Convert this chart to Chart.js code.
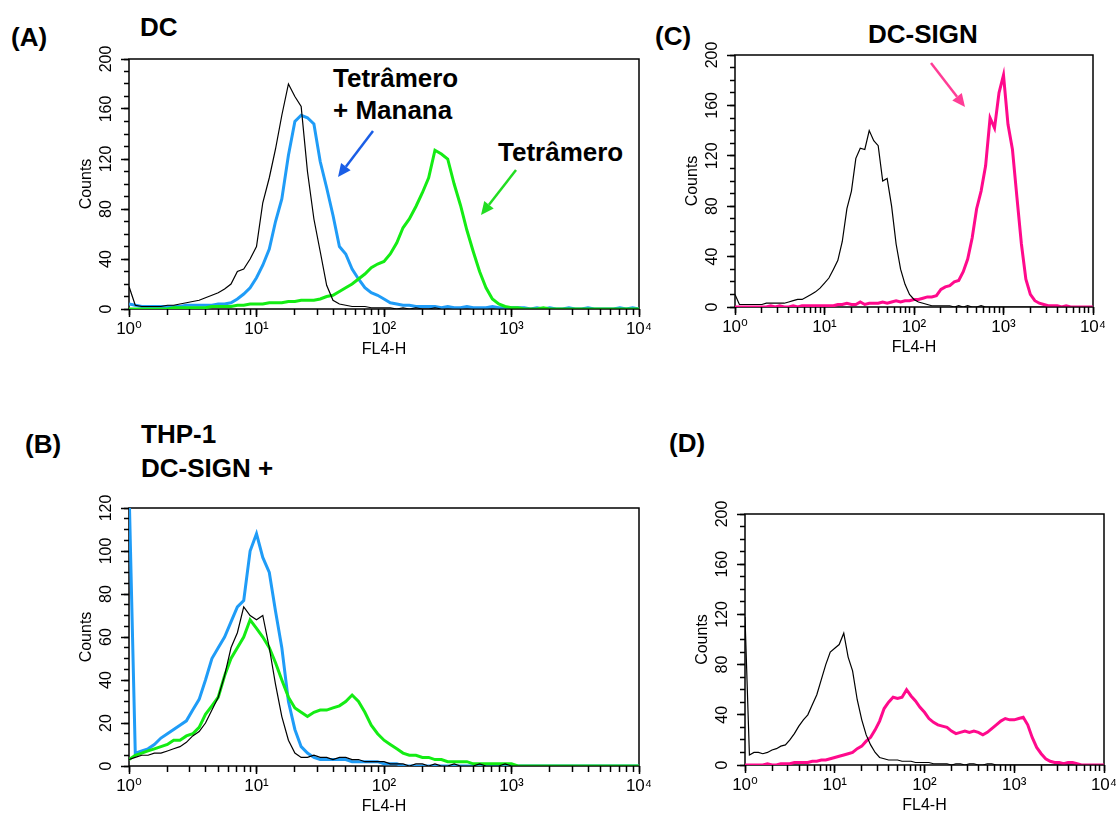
<!DOCTYPE html>
<html>
<head>
<meta charset="utf-8">
<script src="https://cdn.jsdelivr.net/npm/chart.js@4.4.1/dist/chart.umd.min.js"></script>
<style>
  html, body { margin: 0; padding: 0; background: #fff; }
  body { position: relative; width: 1116px; height: 814px; overflow: hidden; }
  canvas { position: absolute; }
  .lbl { position: absolute; font: bold 26px "Liberation Sans", Arial, sans-serif; line-height: 1; white-space: nowrap; color: #000; }
  svg { position: absolute; left: 0; top: 0; }
</style>
</head>
<body>
<div class="lbl" style="left:11px;top:24px">(A)</div>
<div class="lbl" style="left:140px;top:14px">DC</div>
<div class="lbl" style="left:333px;top:65px">Tetrâmero</div>
<div class="lbl" style="left:333px;top:97px">+ Manana</div>
<div class="lbl" style="left:498px;top:139px">Tetrâmero</div>
<div class="lbl" style="left:655px;top:23px">(C)</div>
<div class="lbl" style="left:868px;top:21px">DC-SIGN</div>
<div class="lbl" style="left:25px;top:431px">(B)</div>
<div class="lbl" style="left:141px;top:421px">THP-1</div>
<div class="lbl" style="left:141px;top:455px">DC-SIGN +</div>
<div class="lbl" style="left:669px;top:430px">(D)</div>
<svg id="arrows" width="1116" height="814"></svg>
<script>
// FL4-H channel positions (log axis), shared by every histogram
const channels = [
  1, 1.12, 1.26, 1.41, 1.58, 1.78, 2, 2.24, 2.51, 2.82,
  3.16, 3.55, 3.98, 4.47, 5.01, 5.62, 6.31, 7.08, 7.94, 8.91,
  10, 11.2, 12.6, 14.1, 15.8, 17.8, 20, 22.4, 25.1, 28.2,
  31.6, 35.5, 39.8, 44.7, 50.1, 56.2, 63.1, 70.8, 79.4, 89.1,
  100, 112, 126, 141, 158, 178, 200, 224, 251, 282,
  316, 355, 398, 447, 501, 562, 631, 708, 794, 891,
  1000, 1122, 1259, 1413, 1585, 1778, 1995, 2239, 2512, 2818,
  3162, 3548, 3981, 4467, 5012, 5623, 6310, 7079, 7943, 8913, 10000
];

const decadeTicks = [1, 10, 100, 1000, 10000];
const decadeLabels = ['10⁰', '10¹', '10²', '10³', '10⁴'];
const minorLogTicks = [1, 2, 3, 4, 5, 6, 7, 8, 9, 10, 20, 30, 40, 50, 60, 70, 80, 90,
  100, 200, 300, 400, 500, 600, 700, 800, 900, 1000, 2000, 3000, 4000, 5000, 6000, 7000, 8000, 9000, 10000];

const countTicks200 = [0, 40, 80, 120, 160, 200];
const countMinor200 = [0, 10, 20, 30, 40, 50, 60, 70, 80, 90, 100, 110, 120, 130, 140, 150, 160, 170, 180, 190, 200];
const countTicks120 = [0, 20, 40, 60, 80, 100, 120];
const countMinor120 = [0, 5, 10, 15, 20, 25, 30, 35, 40, 45, 50, 55, 60, 65, 70, 75, 80, 85, 90, 95, 100, 105, 110, 115, 120];

// (A) DC
const dcControl = [
  18, 3, 2, 2, 2, 2, 3, 3, 4, 5,
  6, 7, 9, 11, 13, 16, 20, 30, 32, 40,
  50, 85, 105, 128, 155, 180, 170, 162, 110, 72,
  46, 19, 7, 4, 3, 2, 2, 2, 1, 1,
  1, 1, 0, 1, 0, 1, 0, 0, 1, 0,
  0, 0, 0, 0, 0, 0, 0, 0, 0, 0,
  0, 0, 0, 0, 0, 0, 0, 0, 0, 0,
  0, 0, 0, 0, 0, 0, 0, 0, 0, 0, 0
];
const dcTetramerMannan = [
  4, 3, 2, 2, 2, 2, 2, 2, 2, 3,
  3, 3, 3, 3, 4, 4, 5, 8, 12, 17,
  25, 35, 48, 70, 88, 123, 150, 155, 153, 148,
  118, 97, 75, 50, 44, 32, 24, 17, 13, 11,
  8, 5, 4, 3, 3, 2, 2, 2, 2, 1,
  2, 1, 1, 2, 1, 1, 1, 2, 1, 1,
  1, 1, 1, 0, 1, 0, 1, 0, 0, 1,
  0, 0, 1, 0, 0, 0, 0, 1, 0, 1, 0
];
const dcTetramer = [
  0, 0, 0, 0, 0, 0, 0, 1, 1, 1,
  1, 1, 1, 2, 2, 2, 2, 3, 3, 4,
  4, 4, 5, 5, 5, 6, 6, 7, 7, 7,
  8, 10, 11, 14, 17, 20, 24, 28, 33, 36,
  38, 44, 53, 65, 72, 82, 93, 105, 127, 124,
  120, 100, 83, 63, 46, 30, 17, 8, 4, 2,
  1, 1, 0, 0, 0, 1, 0, 0, 0, 0,
  0, 0, 0, 0, 0, 0, 0, 0, 0, 0, 0
];

// (B) THP-1 DC-SIGN+
const thpControl = [
  3, 4, 5, 5, 6, 6, 7, 8, 9, 11,
  14, 16, 20, 26, 32, 42, 55, 62, 74, 70,
  68, 70, 55, 38, 23, 12, 6, 4, 4, 5,
  4, 4, 3, 4, 4, 3, 3, 2, 2, 2,
  2, 1, 1, 1, 0, 1, 1, 0, 1, 0,
  0, 1, 0, 0, 0, 1, 0, 0, 0, 1,
  0, 0, 0, 0, 0, 0, 0, 0, 0, 0,
  0, 0, 0, 0, 0, 0, 0, 0, 0, 0, 0
];
const thpTetramerMannan = [
  130, 6, 7, 8, 10, 13, 15, 17, 19, 21,
  26, 31, 40, 50, 55, 60, 67, 74, 77, 100,
  108, 97, 90, 72, 55, 30, 17, 9, 6, 4,
  3, 3, 3, 3, 3, 2, 2, 2, 2, 2,
  1, 1, 1, 0, 0, 0, 0, 0, 0, 0,
  0, 0, 0, 0, 0, 0, 0, 0, 0, 0,
  0, 0, 0, 0, 0, 0, 0, 0, 0, 0,
  0, 0, 0, 0, 0, 0, 0, 0, 0, 0, 0
];
const thpTetramer = [
  3, 5, 6, 7, 8, 9, 10, 12, 12, 14,
  15, 18, 24, 28, 32, 42, 50, 55, 60, 68,
  64, 60, 55, 48, 40, 32, 27, 25, 23, 25,
  26, 26, 27, 28, 30, 33, 30, 25, 19, 15,
  12, 10, 8, 6, 5, 5, 4, 4, 3, 3,
  2, 2, 2, 2, 1, 1, 1, 1, 1, 1,
  1, 0, 0, 0, 0, 0, 0, 0, 0, 0,
  0, 0, 0, 0, 0, 0, 0, 0, 0, 0, 0
];

// (C) DC, anti-DC-SIGN
const signControl = [
  10, 2, 2, 2, 2, 2, 2, 3, 3, 3,
  3, 3, 4, 5, 6, 6, 8, 10, 12, 15,
  19, 23, 30, 37, 52, 78, 92, 118, 126, 125,
  140, 132, 128, 100, 102, 80, 50, 30, 18, 10,
  6, 4, 3, 2, 1, 1, 1, 1, 1, 0,
  1, 0, 1, 0, 0, 1, 0, 0, 0, 0,
  0, 0, 0, 0, 0, 0, 0, 0, 0, 0,
  0, 0, 0, 0, 0, 0, 0, 0, 0, 0, 0
];
const signStained = [
  0, 0, 0, 0, 0, 0, 0, 0, 1, 0,
  1, 0, 0, 1, 0, 1, 1, 1, 1, 1,
  1, 1, 1, 2, 2, 3, 2, 2, 4, 2,
  3, 3, 3, 4, 3, 4, 5, 4, 5, 5,
  6, 6, 7, 8, 8, 9, 14, 16, 17, 20,
  21, 28, 38, 55, 78, 92, 112, 150, 142, 170,
  184, 145, 125, 87, 50, 22, 10, 5, 3, 2,
  1, 1, 1, 0, 1, 0, 0, 0, 0, 0, 0
];

// (D) THP-1, anti-DC-SIGN
const thpSignControl = [
  118, 8, 10, 10, 9, 10, 12, 13, 15, 16,
  20, 25, 31, 36, 40, 48, 56, 68, 80, 90,
  93, 96, 105, 86, 75, 52, 36, 24, 16, 10,
  6, 5, 4, 4, 4, 3, 3, 3, 2, 2,
  2, 2, 1, 1, 1, 1, 0, 1, 1, 0,
  1, 1, 0, 0, 1, 1, 0, 0, 0, 0,
  0, 0, 0, 0, 0, 0, 0, 0, 0, 0,
  0, 0, 0, 0, 0, 0, 0, 0, 0, 0, 0
];
const thpSignStained = [
  0, 0, 0, 0, 0, 1, 0, 0, 1, 1,
  1, 2, 2, 2, 2, 3, 3, 4, 4, 5,
  6, 7, 8, 9, 10, 13, 15, 19, 22, 28,
  35, 45, 50, 54, 53, 54, 60, 55, 51, 46,
  42, 37, 34, 32, 31, 30, 27, 25, 26, 27,
  26, 27, 26, 24, 26, 29, 32, 35, 37, 36,
  36, 37, 38, 32, 22, 14, 9, 5, 3, 2,
  2, 1, 2, 2, 1, 0, 0, 0, 0, 0, 0
];

const FONT = '"Liberation Sans", Arial, "DejaVu Sans", sans-serif';
const BLACK = '#000000';
const BLUE = '#1f9cf7';
const GREEN = '#14ec14';
const PINK = '#ff0a8c';

Chart.defaults.font.family = FONT;
Chart.defaults.color = '#000';

// plot boxes in page pixels
const panels = [
  { id: 'chartA', box: { l: 129, t: 59, r: 639, b: 309 }, yMax: 200, major: countTicks200, minor: countMinor200,
    series: [[dcControl, BLACK, 1.2], [dcTetramer, GREEN, 3], [dcTetramerMannan, BLUE, 3]] },
  { id: 'chartB', box: { l: 129, t: 508, r: 639, b: 766 }, yMax: 120, major: countTicks120, minor: countMinor120,
    series: [[thpControl, BLACK, 1.2], [thpTetramer, GREEN, 3], [thpTetramerMannan, BLUE, 3]] },
  { id: 'chartC', box: { l: 735, t: 55, r: 1093, b: 307 }, yMax: 200, major: countTicks200, minor: countMinor200,
    series: [[signControl, BLACK, 1.2], [signStained, PINK, 3]] },
  { id: 'chartD', box: { l: 745, t: 514, r: 1104, b: 765 }, yMax: 200, major: countTicks200, minor: countMinor200,
    series: [[thpSignControl, BLACK, 1.2], [thpSignStained, PINK, 3]] },
];

// margins round each plot box inside its canvas
const PAD_TOP = 22, PAD_RIGHT = 12, Y_AXIS_W = 70, X_AXIS_H = 60;

const frame = {
  id: 'frame',
  beforeDatasetsDraw(chart) {
    const { ctx, chartArea: a } = chart;
    ctx.save();
    ctx.strokeStyle = '#000';
    ctx.lineWidth = 1.5;
    ctx.strokeRect(a.left, a.top, a.width, a.height);
    ctx.restore();
  }
};

function noPadding(s) {
  s.paddingLeft = s.paddingRight = s.paddingTop = s.paddingBottom = 0;
}

function tickGrid(len) {
  return { drawOnChartArea: false, tickLength: len, tickWidth: 1.5, tickColor: '#000', color: '#000' };
}

function makePanel(p) {
  const { l, t, r, b } = p.box;
  const canvas = document.createElement('canvas');
  canvas.id = p.id;
  canvas.width = r - l + Y_AXIS_W + PAD_RIGHT;
  canvas.height = b - t + PAD_TOP + X_AXIS_H;
  canvas.style.left = (l - Y_AXIS_W) + 'px';
  canvas.style.top = (t - PAD_TOP) + 'px';
  document.body.appendChild(canvas);

  const datasets = p.series.map(([vals, color, width]) => ({
    data: channels.map((c, i) => ({ x: c, y: vals[i] })),
    borderColor: color,
    borderWidth: width,
    pointRadius: 0,
    tension: 0,
    fill: false,
  }));

  return new Chart(canvas, {
    type: 'line',
    data: { datasets },
    options: {
      responsive: false,
      animation: false,
      layout: { padding: { top: PAD_TOP, right: PAD_RIGHT, left: 0, bottom: 0 } },
      plugins: { legend: { display: false }, tooltip: { enabled: false } },
      scales: {
        x: {
          type: 'logarithmic', position: 'bottom', min: 1, max: 10000, weight: 1,
          afterBuildTicks: (s) => { s.ticks = decadeTicks.map((v) => ({ value: v })); },
          afterFit: (s) => { s.height = X_AXIS_H; noPadding(s); },
          border: { display: false },
          grid: tickGrid(8),
          ticks: {
            font: { size: 17 }, padding: 2, autoSkip: false, maxRotation: 0, minRotation: 0,
            callback: (v) => decadeLabels[decadeTicks.indexOf(v)],
          },
          title: { display: true, text: 'FL4-H', font: { size: 16 }, padding: { top: 0, bottom: 10 } },
        },
        xMinor: {
          type: 'logarithmic', position: 'bottom', min: 1, max: 10000, weight: 0,
          afterBuildTicks: (s) => { s.ticks = minorLogTicks.map((v) => ({ value: v })); },
          afterFit: (s) => { s.height = 0; noPadding(s); },
          border: { display: false },
          grid: tickGrid(6),
          ticks: { display: false },
        },
        y: {
          type: 'linear', position: 'left', min: 0, max: p.yMax, weight: 1,
          afterBuildTicks: (s) => { s.ticks = p.major.map((v) => ({ value: v })); },
          afterFit: (s) => { s.width = Y_AXIS_W; noPadding(s); },
          border: { display: false },
          grid: tickGrid(8),
          ticks: {
            font: { size: 16 }, padding: 1, autoSkip: false, minRotation: 90, maxRotation: 90,
            crossAlign: 'center', callback: (v) => String(v),
          },
          title: { display: true, text: 'Counts', font: { size: 16 }, padding: { top: 18, bottom: 0 } },
        },
        yMinor: {
          type: 'linear', position: 'left', min: 0, max: p.yMax, weight: 0,
          afterBuildTicks: (s) => { s.ticks = p.minor.map((v) => ({ value: v })); },
          afterFit: (s) => { s.width = 0; noPadding(s); },
          border: { display: false },
          grid: tickGrid(5),
          ticks: { display: false },
        },
      },
    },
    plugins: [frame],
  });
}

panels.forEach(makePanel);

// annotation arrows (page pixels)
const arrows = [
  { from: [373, 131], to: [338, 177], color: '#1a5ee6' },
  { from: [516, 170], to: [481, 215], color: '#22dd22' },
  { from: [931, 63], to: [965, 107], color: '#ff3d96' },
];

const svg = document.getElementById('arrows');
const NS = 'http://www.w3.org/2000/svg';
arrows.forEach(({ from, to, color }) => {
  const [x1, y1] = from;
  const [x2, y2] = to;
  const len = Math.hypot(x2 - x1, y2 - y1);
  const ux = (x2 - x1) / len, uy = (y2 - y1) / len;
  const head = 13, half = 6;
  const bx = x2 - ux * head, by = y2 - uy * head;
  const line = document.createElementNS(NS, 'line');
  line.setAttribute('x1', x1); line.setAttribute('y1', y1);
  line.setAttribute('x2', bx); line.setAttribute('y2', by);
  line.setAttribute('stroke', color); line.setAttribute('stroke-width', 2.5);
  svg.appendChild(line);
  const tip = document.createElementNS(NS, 'polygon');
  tip.setAttribute('points', `${x2},${y2} ${bx - uy * half},${by + ux * half} ${bx + uy * half},${by - ux * half}`);
  tip.setAttribute('fill', color);
  svg.appendChild(tip);
});
</script>
</body>
</html>
